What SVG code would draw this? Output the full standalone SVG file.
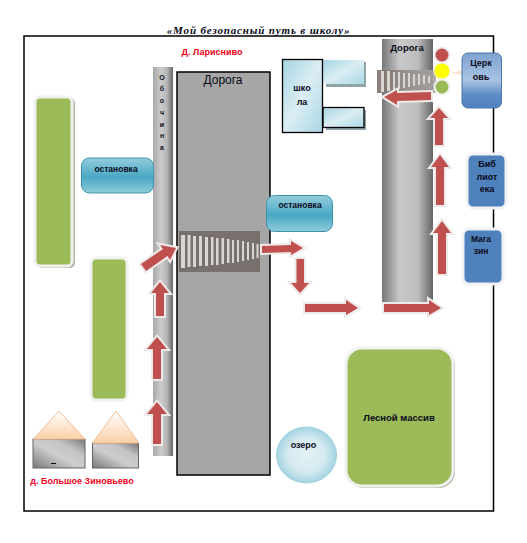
<svg xmlns="http://www.w3.org/2000/svg" width="527" height="543" viewBox="0 0 527 543">
<style>
text{font-family:"Liberation Sans",Arial,sans-serif;fill:#0a0a1a;text-anchor:middle}
.b{font-weight:bold;font-size:8.5px}
.red{fill:#f00020;font-weight:bold;font-size:9px}
.green{fill:#9bbb59;stroke:#f0f0ee;stroke-width:3}
.shadow{fill:#b9bca8}
.blue{fill:#4f81bd;stroke:#f0f2f6;stroke-width:3}
.teal{fill:url(#teal);stroke:#3f93ad;stroke-width:1}
.pale{fill:url(#pale);stroke:#000;stroke-width:1.3}
.ar{fill:#c0504d;stroke:#efeaea;stroke-width:4;stroke-linejoin:miter;paint-order:stroke}
.stripe{fill:#d8d6d3}
</style>
<defs>
<linearGradient id="road" x1="0" x2="1" y1="0" y2="0"><stop offset="0" stop-color="#777"/><stop offset=".35" stop-color="#c9c9c9"/><stop offset=".7" stop-color="#bdbdbd"/><stop offset="1" stop-color="#666"/></linearGradient>
<linearGradient id="roadl" x1="0" x2="1" y1="0" y2="0"><stop offset="0" stop-color="#a8a8a8"/><stop offset=".4" stop-color="#cbcbcb"/><stop offset=".7" stop-color="#b5b5b5"/><stop offset="1" stop-color="#666"/></linearGradient>
<linearGradient id="teal" x1="0" x2="0" y1="0" y2="1"><stop offset="0" stop-color="#93cddd"/><stop offset=".55" stop-color="#4aa8c5"/><stop offset="1" stop-color="#8fcbdc"/></linearGradient>
<linearGradient id="pale" x1="0" x2="1" y1="0" y2="1"><stop offset="0" stop-color="#a5d5e2"/><stop offset=".5" stop-color="#dbedf3"/><stop offset="1" stop-color="#a9d7e4"/></linearGradient>
<linearGradient id="church" x1="0" x2="0" y1="0" y2="1"><stop offset="0" stop-color="#7fa3d0"/><stop offset=".5" stop-color="#a9c3e3"/><stop offset=".75" stop-color="#5f8dc6"/><stop offset="1" stop-color="#4f81bd"/></linearGradient>
<linearGradient id="roof" x1="0" x2="0" y1="0" y2="1"><stop offset="0" stop-color="#fff"/><stop offset="1" stop-color="#fbcfa8"/></linearGradient>
<linearGradient id="wall" x1="0" x2="1" y1="1" y2="0"><stop offset="0" stop-color="#777"/><stop offset=".45" stop-color="#cdcdcd"/><stop offset=".7" stop-color="#c4c4c4"/><stop offset="1" stop-color="#777"/></linearGradient>
<radialGradient id="lake"><stop offset="0" stop-color="#e3f1f5"/><stop offset=".6" stop-color="#d6ebf1"/><stop offset="1" stop-color="#a3d4e1"/></radialGradient>
<linearGradient id="fade" x1="0" x2="1" y1="0" y2="0"><stop offset="0" stop-color="#7d7068"/><stop offset="1" stop-color="#a8a5a2"/></linearGradient>
</defs>

<text x="258.500" y="34" style="font-family:'Liberation Serif',serif;font-weight:bold;font-style:italic;font-size:11px;letter-spacing:.85px">«Мой безопасный путь в школу»</text>
<rect id="frame" x="24" y="36" width="469.500" height="475" fill="#fff" stroke="#000" stroke-width="1.500"/>
<text class="red" x="212" y="55">Д. Ларисниво</text>

<g id="road-left"><rect x="153" y="67" width="20" height="389" fill="url(#roadl)"/>
<g class="b" style="font-size:7px"><text x="162" y="80">О</text><text x="162" y="91">б</text><text x="162" y="103">о</text><text x="162" y="115">ч</text><text x="162" y="127">и</text><text x="162" y="138">н</text><text x="162" y="150">а</text></g></g>
<g id="road-main"><rect x="177" y="72" width="93" height="403" fill="#a6a6a6" stroke="#000" stroke-width="1.500"/><text x="223" y="84" style="font-size:12px">Дорога</text></g>
<g id="crossing-main"><rect x="179" y="231" width="81" height="41" fill="#78706c"/>
<path class="stripe" d="M181 235h4v33h-4zM187.500 235h3v32h-3zM193 236h3v31h-3zM199 236h3v30h-3zM205 237h3v29h-3zM211 237h2.500v28h-2.500zM216 238h2.500v27h-2.500zM221.500 238h2.500v26h-2.500zM227 239h2.500v24h-2.500zM232 240h2v23h-2zM237 240h2v22h-2zM242 241h2v20h-2zM247 242h2v18h-2zM252 243h2v16h-2zM256.500 244h2v14h-2z"/></g>
<g id="road-right"><rect x="382" y="39" width="51" height="264" fill="url(#road)"/><text class="b" x="407" y="51" style="font-size:9.500px">Дорога</text></g>
<g id="crossing-right"><rect x="377" y="70" width="59" height="23" fill="url(#fade)" opacity=".9"/>
<path class="stripe" d="M381 71h3v21h-3zM387 71h3v20h-3zM393 72h2v18h-2zM398 72h2v17h-2zM403 73h2v15h-2zM408 73h2v14h-2zM413 74h2v12h-2zM418 74h2v11h-2zM423 75h2v9h-2zM428 76h2v7h-2z"/></g>

<g id="field-1"><rect x="37" y="98" width="38" height="170" rx="5" class="shadow"/><rect class="green" x="35" y="97" width="37" height="169" rx="5"/></g>
<g id="field-2"><rect class="green" x="91" y="258" width="36" height="142" rx="5" stroke="#e9e9e7"/></g>
<g id="stop-1"><rect class="teal" x="81.500" y="158" width="72" height="35" rx="8"/><text class="b" x="116" y="172">остановка</text></g>
<g id="stop-2"><rect class="teal" x="266.500" y="195.500" width="66" height="36" rx="8"/><text class="b" x="300" y="208">остановка</text></g>

<g id="school">
<rect x="326" y="62" width="40" height="25" fill="#8fa3a8"/><rect x="326" y="110" width="40" height="20" fill="#8fa3a8"/>
<rect x="323" y="60" width="41" height="24" fill="url(#pale)"/>
<rect class="pale" x="323" y="107.500" width="41" height="20"/>
<rect class="pale" x="282.500" y="59.500" width="40" height="73"/>
<text class="b" x="302" y="91" style="font-size:9px">шко</text><text class="b" x="302" y="105" style="font-size:9px">ла</text></g>

<g id="church-node"><polygon points="451,73 462,70 462,75" fill="#fbe3d0"/><rect x="462" y="53" width="39.500" height="55" rx="6" fill="url(#church)" stroke="#4a78ad"/><text class="b" x="481" y="66" style="font-size:9px">Церк</text><text class="b" x="481" y="80" style="font-size:9px">овь</text></g>
<g id="traffic-light"><circle cx="442" cy="55" r="7.500" fill="#c0504d" stroke="#f0ecec" stroke-width="2"/><circle cx="442" cy="71" r="8" fill="#ff0" stroke="#f4f4e8" stroke-width="1"/><circle cx="442" cy="87" r="7.500" fill="#9bbb59" stroke="#f0f0ee" stroke-width="2"/></g>
<g id="library"><rect class="blue" x="467" y="154" width="39" height="54" rx="6"/><g class="b" style="font-size:9px"><text x="487" y="167">Биб</text><text x="487" y="180">лиот</text><text x="487" y="192">ека</text></g></g>
<g id="shop"><rect class="blue" x="463" y="229" width="40" height="55" rx="6"/><g class="b" style="font-size:8.500px"><text x="481" y="242">Мага</text><text x="481" y="254">зин</text></g></g>

<g id="house-1"><rect x="33" y="439" width="52" height="29" fill="url(#wall)" stroke="#666"/><polygon points="33.500,439 59,411 85,439" fill="url(#roof)" stroke="#f5c097"/><rect x="51" y="463" width="5" height="1" fill="#111"/></g>
<g id="house-2"><rect x="92.500" y="443" width="46" height="25" fill="url(#wall)" stroke="#666"/><polygon points="92.500,443 116,411 139,443" fill="url(#roof)" stroke="#f5c097"/></g>
<text class="red" x="82" y="484">д. Большое Зиновьево</text>

<g id="lake-node"><ellipse cx="306.500" cy="455" rx="30" ry="28" fill="url(#lake)" stroke="#a0d0dd"/><text class="b" x="303.500" y="448" style="font-size:9px">озеро</text></g>
<g id="forest"><rect x="348" y="350" width="107" height="138" rx="16" class="shadow"/><rect class="green" x="346" y="348" width="107" height="138" rx="16"/><text class="b" x="399" y="421" style="font-size:9.500px">Лесной массив</text></g>

<g id="connectors">
<g class="ar">
<polygon points="160,282 169,293 164,293 164,316 156,316 156,293 151,293"/>
<polygon points="157,337 167,349 161,349 161,379 153,379 153,349 147,349"/>
<polygon points="157,402 167,414 161,414 161,444 153,444 153,414 147,414"/>
<polygon points="176,248 170,260 167.500,256 146,271 141,264 163,249 160,245"/>
<polygon points="303,248 291,255 291,252 262,253 262,246 291,245 291,241"/>
<polygon points="300,293 291,283 296.500,283 296.500,259 304,259 304,283 309,283"/>
<polygon points="358,308 346,315 346,312 305,312 305,304 346,304 346,300"/>
<polygon points="441,308 429,315 429,312 384,312 384,304 429,304 429,300"/>
<polygon points="442,221 451,233 446,233 446,274 438,274 438,233 433,233"/>
<polygon points="440,155 449,167 444,167 444,205 436,205 436,167 431,167"/>
<polygon points="439,108 448,118 443,118 443,145 435,145 435,118 430,118"/>
<polygon points="384,97 397,90 397,93 431,92 431,100 397,101 397,105"/>
</g>
</g>
</svg>
